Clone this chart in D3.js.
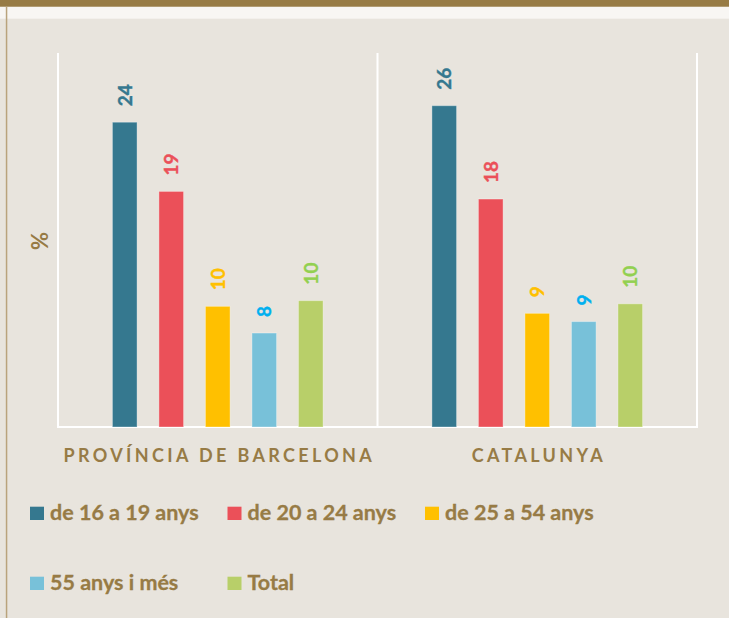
<!DOCTYPE html>
<html>
<head>
<meta charset="utf-8">
<script src="https://cdn.jsdelivr.net/npm/d3@7"></script>
<style>
  body { margin: 0; background: #e8e4dd; }
  svg { display: block; font-family: Lato, "Open Sans", sans-serif; font-weight: bold; }
</style>
</head>
<body>
<svg width="729" height="618"></svg>
<script>
"use strict";

// data
const regions = ["PROVÍNCIA DE BARCELONA", "CATALUNYA"];
const series = ["de 16 a 19 anys", "de 20 a 24 anys", "de 25 a 54 anys", "55 anys i més", "Total"];
const barcelona = [24.0, 18.55, 9.5, 7.4, 9.95];
const catalunya = [25.3, 17.95, 8.95, 8.3, 9.7];
const barcelonaLabels = ["24", "19", "10", "8", "10"];
const catalunyaLabels = ["26", "18", "9", "9", "10"];

const barColors = ["#35788f", "#eb5059", "#ffc000", "#78c1d9", "#b8cf69"];
const labelColors = ["#35788f", "#eb5059", "#ffc000", "#00b0f0", "#92d050"];
const brown = "#977b45";

const values = [barcelona, catalunya];
const labels = [barcelonaLabels, catalunyaLabels];

const svg = d3.select('svg');

// frame: top band, light strip, left rule
svg.append('rect').attr('x', 0).attr('y', 0).attr('width', 729).attr('height', 618).attr('fill', '#e8e4dd');
svg.append('rect').attr('x', 0).attr('y', 6.7).attr('width', 729).attr('height', 12).attr('fill', '#f8f6f3');
svg.append('rect').attr('x', 0).attr('y', 0).attr('width', 729).attr('height', 6.7).attr('fill', brown);
svg.append('rect').attr('x', 5.8).attr('y', 6.7).attr('width', 1.5).attr('height', 612).attr('fill', '#b9a37c');

const plotLeft = 58, plotRight = 697, plotTop = 53, plotBottom = 427;

const x0 = d3.scaleBand()
  .domain(regions)
  .range([plotLeft, plotRight]);

const x1 = d3.scaleBand()
  .domain(series)
  .range([0, x0.bandwidth()])
  .paddingInner(0.47)
  .paddingOuter(1.17);

const y = d3.scaleLinear()
  .domain([0, 30])
  .range([plotBottom, plotBottom - 381]);

// white panel rules
const rules = svg.append('g').attr('stroke', '#ffffff').attr('stroke-width', 2);
regions.concat([null]).forEach(function(r, i) {
  const xx = i < regions.length ? x0(r) : x0.range()[1];
  rules.append('line')
    .attr('x1', xx).attr('x2', xx)
    .attr('y1', plotTop).attr('y2', plotBottom + 1);
});
rules.append('line')
  .attr('x1', plotLeft).attr('x2', plotRight + 1)
  .attr('y1', plotBottom).attr('y2', plotBottom);

// category axis
const axis = svg.append('g')
  .attr('transform', `translate(0, ${plotBottom})`)
  .call(d3.axisBottom(x0).tickSize(0).tickPadding(22));
axis.select('.domain').remove();
axis.selectAll('text')
  .attr('fill', brown)
  .attr('dx', '1.6px')
  .style('font-family', 'Lato, sans-serif')
  .style('font-weight', 'bold')
  .style('font-size', '18px')
  .style('letter-spacing', '3.35px');

const groups = svg.selectAll('g.region')
  .data(regions)
  .enter()
  .append('g')
  .attr('class', 'region')
  .attr('transform', (r) => `translate(${x0(r)}, 0)`);

groups.selectAll('rect')
  .data((r, i) => series.map((s, j) => ({ s: s, v: values[i][j], j: j })))
  .enter()
  .append('rect')
  .attr('x', (d) => x1(d.s))
  .attr('y', (d) => y(d.v))
  .attr('width', x1.bandwidth())
  .attr('height', (d) => plotBottom - y(d.v))
  .attr('fill', (d) => barColors[d.j])
  .attr('stroke', 'rgba(255,255,255,0.35)')
  .attr('stroke-width', 1);

groups.selectAll('text.val')
  .data((r, i) => series.map((s, j) => ({ s: s, v: values[i][j], t: labels[i][j], j: j })))
  .enter()
  .append('text')
  .attr('class', 'val')
  .attr('transform', (d) => `translate(${x1(d.s) + x1.bandwidth() / 2}, ${y(d.v) - 16}) rotate(-90)`)
  .attr('dy', '0.36em')
  .attr('fill', (d) => labelColors[d.j])
  .attr('stroke', (d) => labelColors[d.j])
  .attr('stroke-width', 0.4)
  .style('font-size', '19px')
  .text((d) => d.t);

// axis title
svg.append('text')
  .attr('transform', 'translate(40, 241) rotate(-90)')
  .attr('text-anchor', 'middle')
  .attr('dy', '0.36em')
  .attr('fill', brown)
  .style('font-size', '22px')
  .text('%');

// legend, three per row
const legend = svg.append('g');
const item = legend.selectAll('g')
  .data(series)
  .enter()
  .append('g')
  .attr('transform', (s, i) => `translate(${30 + (i % 3) * 197.5}, ${506.7 + Math.floor(i / 3) * 70})`);
item.append('rect')
  .attr('width', 14)
  .attr('height', 13.3)
  .attr('fill', (s, i) => barColors[i]);
item.append('text')
  .attr('x', 20)
  .attr('y', 13.3)
  .attr('fill', brown)
  .attr('stroke', brown)
  .attr('stroke-width', 0.3)
  .style('font-size', '21.5px')
  .text((s) => s);
</script>
</body>
</html>
